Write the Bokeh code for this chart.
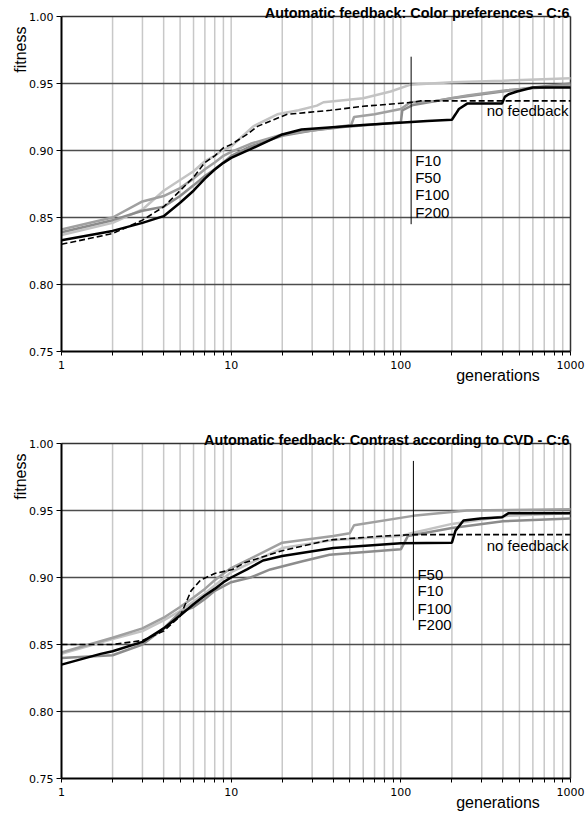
import math
from bokeh.plotting import figure
from bokeh.models import Label, Range1d, FixedTicker, NumeralTickFormatter, PrintfTickFormatter
from bokeh.layouts import column
from bokeh.embed import file_html
from bokeh.resources import INLINE

# ---------------- data: chart 1 (Color preferences) ----------------
TITLE_CP = "Automatic feedback: Color preferences - C:6"
GEN_CP_F10 = [1, 2, 3, 4, 5, 6, 7, 8, 9, 10, 13.5, 18.7, 25, 32, 35, 60, 87, 113, 150, 200, 400, 1000]
FIT_CP_F10 = [0.837, 0.846, 0.856, 0.870, 0.878, 0.8845, 0.892, 0.896, 0.9007, 0.903, 0.918, 0.927, 0.930, 0.9335, 0.936, 0.939, 0.944, 0.949, 0.950, 0.951, 0.952, 0.954]
GEN_CP_F50 = [1, 2, 3, 4, 5, 6, 7, 8, 9, 10, 13, 20, 30, 51, 53, 70, 100, 114, 160, 246, 420, 1000]
FIT_CP_F50 = [0.841, 0.850, 0.862, 0.866, 0.872, 0.879, 0.886, 0.891, 0.896, 0.899, 0.905, 0.912, 0.915, 0.919, 0.925, 0.927, 0.931, 0.936, 0.937, 0.941, 0.945, 0.9485]
GEN_CP_F100 = [1, 2, 3, 4, 5, 6, 7, 8, 9, 10, 13, 20, 30, 50, 100, 102, 118, 200, 300, 600, 1000]
FIT_CP_F100 = [0.839, 0.848, 0.855, 0.858, 0.866, 0.874, 0.881, 0.886, 0.891, 0.896, 0.903, 0.911, 0.915, 0.918, 0.921, 0.930, 0.934, 0.939, 0.942, 0.947, 0.950]
GEN_CP_F200 = [1, 2, 3, 4, 5, 6, 7, 8, 9, 10, 13, 20, 26, 60, 143, 200, 210, 220, 246, 395, 410, 432, 484, 600, 1000]
FIT_CP_F200 = [0.833, 0.840, 0.846, 0.851, 0.861, 0.870, 0.879, 0.8858, 0.8908, 0.8945, 0.901, 0.912, 0.9157, 0.919, 0.922, 0.923, 0.927, 0.931, 0.935, 0.935, 0.940, 0.942, 0.944, 0.947, 0.947]
GEN_CP_NF = [1, 2, 3, 4, 5, 6, 7, 8, 9, 10, 12.4, 14.3, 17.8, 21.4, 38.4, 60, 118, 130, 1000]
FIT_CP_NF = [0.830, 0.838, 0.848, 0.858, 0.870, 0.880, 0.891, 0.896, 0.902, 0.9045, 0.912, 0.918, 0.923, 0.927, 0.930, 0.933, 0.936, 0.937, 0.937]
LEGEND_CP = ["F10", "F50", "F100", "F200"]
LEGEND_CP_Y = [0.8925, 0.880, 0.867, 0.854]
MARK_CP_X = 115
MARK_CP_Y = [0.845, 0.970]
NOFB_CP_Y = 0.930

# ---------------- data: chart 2 (Contrast according to CVD) ----------------
TITLE_CVD = "Automatic feedback: Contrast according to CVD - C:6"
GEN_CVD_F10 = [1, 2, 3, 4, 5, 6, 7, 8, 10, 20, 40, 100, 115, 200, 430, 1000]
FIT_CVD_F10 = [0.843, 0.854, 0.860, 0.868, 0.875, 0.882, 0.888, 0.894, 0.904, 0.922, 0.928, 0.931, 0.933, 0.940, 0.946, 0.948]
GEN_CVD_F50 = [1, 2, 3, 4, 5, 6, 7, 8, 9, 10, 13, 20, 40, 50, 53, 118, 245, 1000]
FIT_CVD_F50 = [0.844, 0.855, 0.862, 0.870, 0.878, 0.885, 0.8915, 0.898, 0.903, 0.907, 0.914, 0.926, 0.931, 0.933, 0.939, 0.946, 0.950, 0.951]
GEN_CVD_F100 = [1, 2, 3, 4, 5, 6, 7, 8, 10, 13, 17, 26, 38, 100, 105, 110, 200, 400, 1000]
FIT_CVD_F100 = [0.840, 0.842, 0.850, 0.862, 0.874, 0.878, 0.884, 0.890, 0.8965, 0.900, 0.906, 0.912, 0.917, 0.921, 0.926, 0.931, 0.937, 0.942, 0.944]
GEN_CVD_F200 = [1, 1.7, 2, 3, 4, 5, 6, 7, 8, 9, 10, 12.4, 15.4, 20, 40, 100, 200, 210, 234, 294, 395, 432, 1000]
FIT_CVD_F200 = [0.835, 0.843, 0.845, 0.852, 0.862, 0.8716, 0.880, 0.8866, 0.8915, 0.8965, 0.900, 0.906, 0.9127, 0.916, 0.922, 0.9255, 0.926, 0.935, 0.9425, 0.944, 0.945, 0.948, 0.948]
GEN_CVD_NF = [1, 2, 3, 4, 5, 5.8, 6.6, 8, 10.2, 12, 20, 38, 80, 118, 1000]
FIT_CVD_NF = [0.850, 0.850, 0.853, 0.860, 0.871, 0.890, 0.898, 0.903, 0.906, 0.911, 0.920, 0.928, 0.931, 0.932, 0.932]
LEGEND_CVD = ["F50", "F10", "F100", "F200"]
LEGEND_CVD_Y = [0.902, 0.890, 0.877, 0.865]
MARK_CVD_X = 118.6
MARK_CVD_Y = [0.868, 0.987]
NOFB_CVD_Y = 0.924

# ---------------- axes ----------------
X_MAJOR = [1, 10, 100, 1000]
X_MINOR = [2, 3, 4, 5, 6, 7, 8, 9, 20, 30, 40, 50, 60, 70, 80, 90, 200, 300, 400, 500, 600, 700, 800, 900]
Y_TICKS = [0.75, 0.80, 0.85, 0.90, 0.95, 1.00]
X_LABEL = "generations"
Y_LABEL = "fitness"
NOFB_LABEL = "no feedback"

COLORS = {"F10": "#c3c3c3", "F50": "#a0a0a0", "F100": "#8c8c8c", "F200": "#000000"}

# ---------------- geometry (pixels) ----------------
CANVAS_W = 586
AX_LEFT = 61          # x = 1 on canvas
PX_DEC = 509 / 3      # pixels per decade
PX_UNIT = 1340        # pixels per fitness unit
FONT = "Liberation Sans"


def make_chart(title, series, nf, legend, legend_y, mark_x, mark_y, nofb_y, canvas_h, ax_top):
    x0, x1 = X_MAJOR[0], X_MAJOR[-1]
    y0, y1 = Y_TICKS[0], Y_TICKS[-1]
    xr = Range1d(10 ** (-AX_LEFT / PX_DEC), 10 ** ((CANVAS_W - AX_LEFT) / PX_DEC))
    yr = Range1d(y1 - (canvas_h - ax_top) / PX_UNIT, y1 + ax_top / PX_UNIT)
    p = figure(width=CANVAS_W, height=canvas_h, x_axis_type="log", x_range=xr, y_range=yr,
               min_border=0, output_backend="svg", toolbar_location=None,
               background_fill_color="white", border_fill_color="white")
    p.outline_line_color = None
    p.xgrid.visible = False
    p.ygrid.visible = False

    # axes drawn inside the canvas at the data origin
    p.xaxis.fixed_location = y0
    p.xaxis.bounds = (x0, x1)
    p.yaxis.fixed_location = x0
    p.yaxis.bounds = (y0, y1)
    p.xaxis.ticker = FixedTicker(ticks=X_MAJOR, minor_ticks=X_MINOR)
    p.xaxis.formatter = PrintfTickFormatter(format="%d")
    p.yaxis.ticker = FixedTicker(ticks=Y_TICKS)
    p.yaxis.formatter = NumeralTickFormatter(format="0.00")
    for ax in (p.xaxis, p.yaxis):
        ax.axis_line_width = 2
        ax.axis_line_color = "black"
        ax.major_tick_line_color = "black"
        ax.minor_tick_line_color = "black"
        ax.major_tick_in = 0
        ax.minor_tick_in = 0
        ax.major_label_text_font = "DejaVu Sans"
        ax.major_label_text_font_size = "11px"
        ax.major_label_text_color = "black"
    p.xaxis.major_tick_out = 4
    p.xaxis.minor_tick_out = 4
    p.xaxis.major_label_standoff = 5
    p.yaxis.major_tick_out = 5
    p.yaxis.minor_tick_out = 0
    p.yaxis.major_label_standoff = 3

    # grid lines from the tick lists
    xg = X_MAJOR[1:-1] + X_MINOR
    p.segment(x0=xg, y0=[y0] * len(xg), x1=xg, y1=[y1] * len(xg),
              line_color="#c8c8c8", line_width=1.5)
    yg = Y_TICKS[1:-1]
    p.segment(x0=[x0] * len(yg), y0=yg, x1=[x1] * len(yg), y1=yg,
              line_color="#4d4d4d", line_width=1.3)
    # top and right border
    p.segment(x0=[x0, x1], y0=[y1, y0], x1=[x1, x1], y1=[y1, y1],
              line_color="#333333", line_width=1.5)

    for name in ["F10", "F100", "F50", "F200"]:
        gx, gy = series[name]
        p.line(gx, gy, line_color=COLORS[name], line_width=2.5)
    p.line(nf[0], nf[1], line_color="black", line_width=1.6, line_dash="6 3")

    p.line([mark_x, mark_x], mark_y, line_color="black", line_width=1)
    for txt, yv in zip(legend, legend_y):
        p.add_layout(Label(x=mark_x, y=yv, text=txt, x_offset=4, text_baseline="middle",
                           text_font=FONT, text_font_size="15px", text_color="black"))
    p.add_layout(Label(x=x1, y=nofb_y, text=NOFB_LABEL, x_offset=-2, text_align="right",
                       text_baseline="middle", text_font=FONT, text_font_size="15px",
                       text_color="black"))

    # title and axis labels
    p.add_layout(Label(x=x1, y=y1 + 4 / PX_UNIT, text=title, x_offset=-1,
                       text_align="right", text_baseline="alphabetic", text_font=FONT,
                       text_font_style="bold", text_font_size="14.4px", text_color="black"))
    p.add_layout(Label(x=x0, y=y1 - 10 / PX_UNIT, x_offset=-41, text=Y_LABEL,
                       angle=math.pi / 2, text_align="right", text_baseline="middle",
                       text_font=FONT, text_font_size="16px", text_color="black"))
    p.add_layout(Label(x=10 ** ((497.5 - AX_LEFT) / PX_DEC), y=y0 - 24 / PX_UNIT, text=X_LABEL,
                       text_align="center", text_baseline="middle",
                       text_font=FONT, text_font_size="16px", text_color="black"))
    return p


p1 = make_chart(TITLE_CP,
                {"F10": (GEN_CP_F10, FIT_CP_F10), "F50": (GEN_CP_F50, FIT_CP_F50),
                 "F100": (GEN_CP_F100, FIT_CP_F100), "F200": (GEN_CP_F200, FIT_CP_F200)},
                (GEN_CP_NF, FIT_CP_NF), LEGEND_CP, LEGEND_CP_Y, MARK_CP_X, MARK_CP_Y, NOFB_CP_Y,
                canvas_h=404, ax_top=16)
p2 = make_chart(TITLE_CVD,
                {"F10": (GEN_CVD_F10, FIT_CVD_F10), "F50": (GEN_CVD_F50, FIT_CVD_F50),
                 "F100": (GEN_CVD_F100, FIT_CVD_F100), "F200": (GEN_CVD_F200, FIT_CVD_F200)},
                (GEN_CVD_NF, FIT_CVD_NF), LEGEND_CVD, LEGEND_CVD_Y, MARK_CVD_X, MARK_CVD_Y, NOFB_CVD_Y,
                canvas_h=411, ax_top=39)

layout = column(p1, p2, spacing=0)
open("out.html", "w").write(file_html(layout, INLINE))
